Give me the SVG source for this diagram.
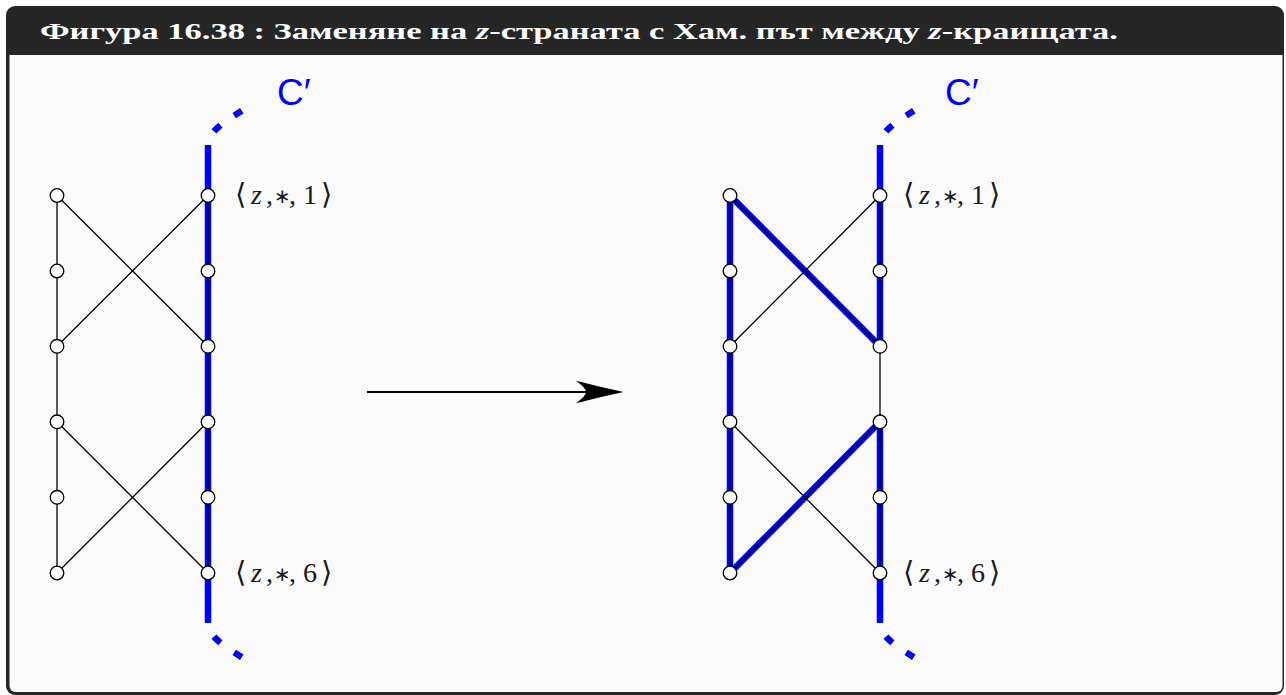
<svg xmlns="http://www.w3.org/2000/svg" width="1286" height="695" viewBox="0 0 1286 695">
<style>
.frame{fill:#262626}
.body{fill:#fafafa}
.title{font-family:"Liberation Serif","DejaVu Serif",serif;font-weight:bold;font-size:23.5px;fill:#ffffff}
.thin{stroke:#000;stroke-width:1.3;fill:none}
.blue{stroke:#0000ff;stroke-width:6.5;fill:none}
.dash{stroke:#0000ff;stroke-width:6.5;fill:none;stroke-dasharray:9 17;stroke-dashoffset:9}
.node{fill:#fff;stroke:#000;stroke-width:1.3}
.lbl{font-family:"Liberation Serif","DejaVu Serif",serif;font-size:28px;fill:#1a1a1a}
.it{font-family:"Liberation Serif",serif;font-style:italic}
.op{font-family:"DejaVu Sans",sans-serif;font-size:20px}
.br{font-family:"DejaVu Serif","DejaVu Sans",serif;font-size:29px}
.cp{font-family:"Liberation Sans","DejaVu Sans",sans-serif;font-size:37px;fill:#0000ff}
</style>
<defs>
<g id="nodes">
<circle class="node" cx="0" cy="195.5" r="6.8"/>
<circle class="node" cx="0" cy="271" r="6.8"/>
<circle class="node" cx="0" cy="346.3" r="6.8"/>
<circle class="node" cx="0" cy="421.8" r="6.8"/>
<circle class="node" cx="0" cy="497.3" r="6.8"/>
<circle class="node" cx="0" cy="573" r="6.8"/>
</g>
</defs>
<rect class="frame" x="6" y="6" width="1278" height="689" rx="9"/>
<path class="body" d="M9.5,55 H1282.5 V686 a6,6 0 0 1 -6,6 H15.5 a6,6 0 0 1 -6,-6 Z"/>
<text class="title" x="40" y="38.5" textLength="1078" lengthAdjust="spacingAndGlyphs">Фигура 16.38 : Заменяне на <tspan font-style="italic">z</tspan>-страната с Хам. път между <tspan font-style="italic">z</tspan>-краищата.</text>

<g id="connectors">
<!-- left graph -->
<line class="blue" x1="208" y1="145" x2="208" y2="623"/>
<path class="dash" d="M208,147 C208,130 225,122 246,108"/>
<path class="dash" d="M208,621 C208,638 225,646 246,660"/>
<line class="thin" x1="57" y1="195.5" x2="57" y2="573"/>
<line class="thin" x1="208" y1="195.5" x2="208" y2="573"/>
<line class="thin" x1="57" y1="195.5" x2="208" y2="346.3"/>
<line class="thin" x1="57" y1="346.3" x2="208" y2="195.5"/>
<line class="thin" x1="57" y1="421.8" x2="208" y2="573"/>
<line class="thin" x1="57" y1="573" x2="208" y2="421.8"/>
<!-- arrow -->
<line x1="367" y1="392" x2="590" y2="392" stroke="#000" stroke-width="2.2"/>
<path d="M623.5,392 Q600,387 576,380.8 Q586,388 586,392 Q586,396 576,403.2 Q600,397 623.5,392 Z" fill="#000"/>
<!-- right graph -->
<line class="blue" x1="880" y1="145" x2="880" y2="346.3"/>
<line class="blue" x1="880" y1="421.8" x2="880" y2="623"/>
<path class="dash" d="M880,147 C880,130 897,122 918,108"/>
<path class="dash" d="M880,621 C880,638 897,646 918,660"/>
<line class="blue" x1="730" y1="195.5" x2="730" y2="573"/>
<line class="blue" x1="730" y1="195.5" x2="880" y2="346.3"/>
<line class="blue" x1="880" y1="421.8" x2="730" y2="573"/>
<line class="thin" x1="730" y1="195.5" x2="730" y2="573"/>
<line class="thin" x1="880" y1="195.5" x2="880" y2="573"/>
<line class="thin" x1="730" y1="195.5" x2="880" y2="346.3"/>
<line class="thin" x1="880" y1="421.8" x2="730" y2="573"/>
<line class="thin" x1="730" y1="346.3" x2="880" y2="195.5"/>
<line class="thin" x1="730" y1="421.8" x2="880" y2="573"/>
</g>

<g id="left-nodes"><use href="#nodes" x="57"/><use href="#nodes" x="208"/></g>
<g id="right-nodes"><use href="#nodes" x="730"/><use href="#nodes" x="880"/></g>

<g id="label-left-1">
<text class="lbl" y="204"><tspan class="br" x="235">⟨</tspan><tspan class="it" x="251">z</tspan><tspan x="266">,</tspan><tspan class="op" x="274" dy="-1">∗</tspan><tspan x="289" dy="1">,</tspan><tspan x="303">1</tspan><tspan class="br" x="321">⟩</tspan></text>
</g>
<g id="label-left-6">
<text class="lbl" y="582"><tspan class="br" x="235">⟨</tspan><tspan class="it" x="251">z</tspan><tspan x="266">,</tspan><tspan class="op" x="274" dy="-1">∗</tspan><tspan x="289" dy="1">,</tspan><tspan x="303">6</tspan><tspan class="br" x="321">⟩</tspan></text>
</g>
<g id="label-right-1">
<text class="lbl" y="204"><tspan class="br" x="903">⟨</tspan><tspan class="it" x="919">z</tspan><tspan x="934">,</tspan><tspan class="op" x="942" dy="-1">∗</tspan><tspan x="957" dy="1">,</tspan><tspan x="971">1</tspan><tspan class="br" x="989">⟩</tspan></text>
</g>
<g id="label-right-6">
<text class="lbl" y="582"><tspan class="br" x="903">⟨</tspan><tspan class="it" x="919">z</tspan><tspan x="934">,</tspan><tspan class="op" x="942" dy="-1">∗</tspan><tspan x="957" dy="1">,</tspan><tspan x="971">6</tspan><tspan class="br" x="989">⟩</tspan></text>
</g>
<g id="label-C-left"><text class="cp" x="277" y="105">C′</text></g>
<g id="label-C-right"><text class="cp" x="945" y="105">C′</text></g>
</svg>
